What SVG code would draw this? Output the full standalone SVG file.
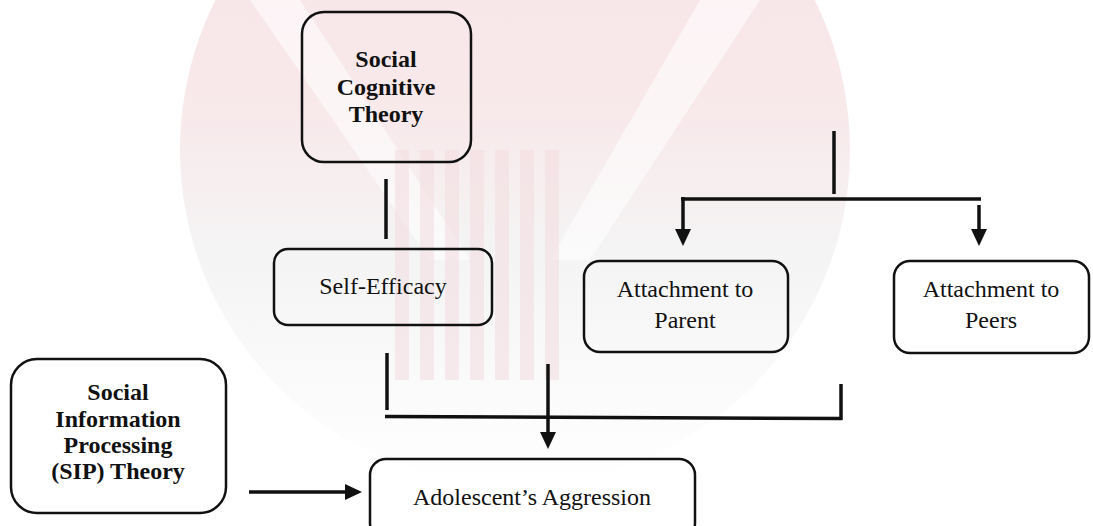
<svg xmlns="http://www.w3.org/2000/svg" width="1093" height="526" viewBox="0 0 1093 526">
  <defs>
    <linearGradient id="wm" x1="0" y1="0" x2="0" y2="1">
      <stop offset="0" stop-color="#f8e3e7"/>
      <stop offset="0.45" stop-color="#f8e9eb"/>
      <stop offset="0.65" stop-color="#f4f4f4"/>
      <stop offset="1" stop-color="#ffffff"/>
    </linearGradient>
    <marker id="ah" markerUnits="userSpaceOnUse" markerWidth="18" markerHeight="18" viewBox="0 0 18 18" refX="9" refY="9" orient="auto">
      <path d="M0,1 L17,9 L0,17 z" fill="#111"/>
    </marker>
    <style>
      .box { fill: none; stroke: #111; stroke-width: 2.5; }
      .t { font-family: "Liberation Serif", "DejaVu Serif", "Times New Roman", Times, serif; font-size: 24px; fill: #111; text-anchor: middle; }
      .b { font-weight: bold; }
      .ln { stroke: #111; stroke-width: 3.5; fill: none; stroke-linecap: butt; }
      .arr { marker-end: url(#ah); }
      .stripe { fill: #f4dde1; opacity: 0.6; }
      .band { fill: #ffffff; opacity: 0.55; }
    </style>
  </defs>

  <g id="watermark">
    <circle cx="515" cy="150" r="335" fill="url(#wm)"/>
    <polygon class="band" points="250,0 300,0 470,260 430,260"/>
    <polygon class="band" points="700,0 760,0 590,260 550,260"/>
    <rect class="stripe" x="395" y="150" width="14" height="230"/>
    <rect class="stripe" x="420" y="150" width="14" height="230"/>
    <rect class="stripe" x="445" y="150" width="14" height="230"/>
    <rect class="stripe" x="470" y="150" width="14" height="230"/>
    <rect class="stripe" x="495" y="150" width="14" height="230"/>
    <rect class="stripe" x="520" y="150" width="14" height="230"/>
    <rect class="stripe" x="545" y="150" width="14" height="230"/>
  </g>

  <g id="connectors">
    <line class="ln" x1="386" y1="179" x2="386" y2="239"/>
    <line class="ln" x1="387" y1="353" x2="387" y2="410"/>
    <line class="ln" x1="385" y1="416.5" x2="842" y2="418.5"/>
    <line class="ln" x1="841" y1="384" x2="841" y2="420"/>
    <line class="ln arr" x1="548" y1="364" x2="548" y2="441"/>
    <line class="ln arr" x1="249" y1="492" x2="354" y2="492"/>
    <line class="ln" x1="834" y1="131" x2="834" y2="194"/>
    <line class="ln" x1="681" y1="199" x2="981" y2="199"/>
    <line class="ln arr" x1="683" y1="197" x2="683" y2="238"/>
    <line class="ln arr" x1="979" y1="205" x2="979" y2="238"/>
  </g>

  <g id="social-cognitive-theory">
    <rect class="box" x="302" y="12" width="169" height="150" rx="22"/>
    <text class="t b" x="386" y="67">Social</text>
    <text class="t b" x="386" y="94.5">Cognitive</text>
    <text class="t b" x="386" y="122">Theory</text>
  </g>

  <g id="self-efficacy">
    <rect class="box" x="274" y="249" width="218" height="76" rx="14"/>
    <text class="t" x="383" y="294">Self-Efficacy</text>
  </g>

  <g id="attachment-parent">
    <rect class="box" x="584" y="261" width="204" height="91" rx="16"/>
    <text class="t" x="685" y="297">Attachment to</text>
    <text class="t" x="685" y="328">Parent</text>
  </g>

  <g id="attachment-peers">
    <rect class="box" x="894" y="261" width="195" height="92" rx="16"/>
    <text class="t" x="991" y="297">Attachment to</text>
    <text class="t" x="991" y="328">Peers</text>
  </g>

  <g id="sip-theory">
    <rect class="box" x="11" y="359" width="215" height="154" rx="26"/>
    <text class="t b" x="118" y="400">Social</text>
    <text class="t b" x="118" y="427">Information</text>
    <text class="t b" x="118" y="453">Processing</text>
    <text class="t b" x="118" y="479">(SIP) Theory</text>
  </g>

  <g id="adolescent-aggression">
    <rect class="box" x="370" y="459" width="325" height="80" rx="16"/>
    <text class="t" x="532" y="505">Adolescent’s Aggression</text>
  </g>
</svg>
